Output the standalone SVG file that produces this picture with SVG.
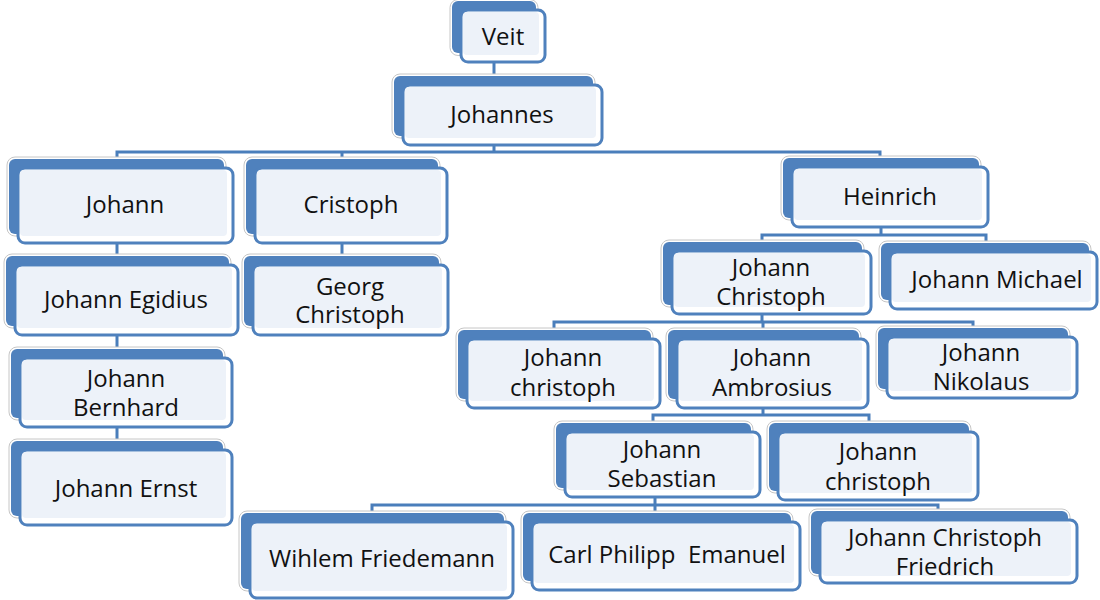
<svg xmlns="http://www.w3.org/2000/svg" width="1100" height="600" viewBox="0 0 1100 600">
  <style>
    .bko { fill: #ffffff; stroke: #c6c6c6; stroke-width: 1; }
    .bk { fill: #4f81bd; }
    .fr { fill: #ffffff; stroke: #4f81bd; stroke-width: 3; }
    .fi { fill: #edf2f9; }
    .lbl { font-family: "Open Sans", "Liberation Sans", sans-serif; font-size: 24px; fill: #111111; text-anchor: middle; white-space: pre; }
    .con { fill: none; stroke: #4a7ebb; stroke-width: 3; stroke-linejoin: miter; }
  </style>

  <!-- connectors: elbow lines from parent to children -->
  <g id="connectors" class="con">
    <path d="M494,62 V76"/>
    <path d="M494,145 V152 M117,158 V152 H880 V158 M342,152 V158"/>
    <path d="M117,243 V256"/>
    <path d="M342,243 V256"/>
    <path d="M117,335 V349"/>
    <path d="M117,427 V441"/>
    <path d="M881,227 V235 M762,242 V235 H986 V243"/>
    <path d="M762,314 V322 M554,330 V322 H973 V328 M763,322 V330"/>
    <path d="M763,408 V415 M653,423 V415 H869 V423"/>
    <path d="M655,497 V513 M372,513 V505 H938 V511"/>
  </g>

  <g id="veit">
    <rect class="bko" x="450" y="-0.5" width="88" height="56" rx="8"/>
    <rect class="bk" x="452" y="1" width="84" height="52" rx="6"/>
    <rect class="fr" x="461" y="10" width="84" height="52" rx="7"/>
    <rect class="fi" x="463" y="12" width="76" height="43" rx="4"/>
    <text class="lbl" x="503" y="45">Veit</text>
  </g>

  <g id="johannes">
    <rect class="bko" x="392" y="74" width="203" height="64" rx="8"/>
    <rect class="bk" x="394" y="76" width="199" height="60" rx="6"/>
    <rect class="fr" x="403" y="85" width="199" height="60" rx="7"/>
    <rect class="fi" x="405" y="87" width="191" height="51" rx="4"/>
    <text class="lbl" x="502" y="123">Johannes</text>
  </g>

  <g id="johann">
    <rect class="bko" x="7" y="157" width="219" height="79" rx="8"/>
    <rect class="bk" x="9" y="159" width="215" height="75" rx="6"/>
    <rect class="fr" x="18" y="168" width="215" height="75" rx="7"/>
    <rect class="fi" x="20" y="170" width="207" height="66" rx="4"/>
    <text class="lbl" x="125" y="213">Johann</text>
  </g>

  <g id="cristoph">
    <rect class="bko" x="244" y="157" width="196" height="79" rx="8"/>
    <rect class="bk" x="246" y="159" width="192" height="75" rx="6"/>
    <rect class="fr" x="255" y="168" width="192" height="75" rx="7"/>
    <rect class="fi" x="257" y="170" width="184" height="66" rx="4"/>
    <text class="lbl" x="351" y="213">Cristoph</text>
  </g>

  <g id="heinrich">
    <rect class="bko" x="781" y="156" width="200" height="64" rx="8"/>
    <rect class="bk" x="783" y="158" width="196" height="60" rx="6"/>
    <rect class="fr" x="792" y="167" width="196" height="60" rx="7"/>
    <rect class="fi" x="794" y="169" width="188" height="51" rx="4"/>
    <text class="lbl" x="890" y="205">Heinrich</text>
  </g>

  <g id="johann-egidius">
    <rect class="bko" x="4" y="254" width="227" height="74" rx="8"/>
    <rect class="bk" x="6" y="256" width="223" height="70" rx="6"/>
    <rect class="fr" x="15" y="265" width="223" height="70" rx="7"/>
    <rect class="fi" x="17" y="267" width="215" height="61" rx="4"/>
    <text class="lbl" x="126" y="308">Johann Egidius</text>
  </g>

  <g id="georg-christoph">
    <rect class="bko" x="242" y="254" width="199" height="74" rx="8"/>
    <rect class="bk" x="244" y="256" width="195" height="70" rx="6"/>
    <rect class="fr" x="253" y="265" width="195" height="70" rx="7"/>
    <rect class="fi" x="255" y="267" width="187" height="61" rx="4"/>
    <text class="lbl" x="350" y="295">Georg</text>
    <text class="lbl" x="350" y="323">Christoph</text>
  </g>

  <g id="johann-bernhard">
    <rect class="bko" x="9" y="347" width="216" height="73" rx="8"/>
    <rect class="bk" x="11" y="349" width="212" height="69" rx="6"/>
    <rect class="fr" x="20" y="358" width="212" height="69" rx="7"/>
    <rect class="fi" x="22" y="360" width="204" height="60" rx="4"/>
    <text class="lbl" x="126" y="387">Johann</text>
    <text class="lbl" x="126" y="416">Bernhard</text>
  </g>

  <g id="johann-ernst">
    <rect class="bko" x="9" y="439" width="216" height="79" rx="8"/>
    <rect class="bk" x="11" y="441" width="212" height="75" rx="6"/>
    <rect class="fr" x="20" y="450" width="212" height="75" rx="7"/>
    <rect class="fi" x="22" y="452" width="204" height="66" rx="4"/>
    <text class="lbl" x="126" y="497">Johann Ernst</text>
  </g>

  <g id="johann-christoph-1">
    <rect class="bko" x="661" y="240" width="203" height="67" rx="8"/>
    <rect class="bk" x="663" y="242" width="199" height="63" rx="6"/>
    <rect class="fr" x="672" y="251" width="199" height="63" rx="7"/>
    <rect class="fi" x="674" y="253" width="191" height="54" rx="4"/>
    <text class="lbl" x="771" y="276">Johann</text>
    <text class="lbl" x="771" y="305">Christoph</text>
  </g>

  <g id="johann-michael">
    <rect class="bko" x="879" y="241" width="212" height="61" rx="8"/>
    <rect class="bk" x="881" y="243" width="208" height="57" rx="6"/>
    <rect class="fr" x="890" y="252" width="207" height="57" rx="7"/>
    <rect class="fi" x="892" y="254" width="199" height="48" rx="4"/>
    <text class="lbl" x="997" y="288">Johann Michael</text>
  </g>

  <g id="johann-christoph-2">
    <rect class="bko" x="456" y="328" width="197" height="73" rx="8"/>
    <rect class="bk" x="458" y="330" width="193" height="69" rx="6"/>
    <rect class="fr" x="467" y="339" width="193" height="69" rx="7"/>
    <rect class="fi" x="469" y="341" width="185" height="60" rx="4"/>
    <text class="lbl" x="563" y="366">Johann</text>
    <text class="lbl" x="563" y="396">christoph</text>
  </g>

  <g id="johann-ambrosius">
    <rect class="bko" x="666" y="328" width="195" height="73" rx="8"/>
    <rect class="bk" x="668" y="330" width="191" height="69" rx="6"/>
    <rect class="fr" x="677" y="339" width="191" height="69" rx="7"/>
    <rect class="fi" x="679" y="341" width="183" height="60" rx="4"/>
    <text class="lbl" x="772" y="366">Johann</text>
    <text class="lbl" x="772" y="396">Ambrosius</text>
  </g>

  <g id="johann-nikolaus">
    <rect class="bko" x="876" y="326" width="194" height="65" rx="8"/>
    <rect class="bk" x="878" y="328" width="190" height="61" rx="6"/>
    <rect class="fr" x="887" y="337" width="190" height="61" rx="7"/>
    <rect class="fi" x="889" y="339" width="182" height="52" rx="4"/>
    <text class="lbl" x="981" y="361">Johann</text>
    <text class="lbl" x="981" y="390">Nikolaus</text>
  </g>

  <g id="johann-sebastian">
    <rect class="bko" x="554" y="421" width="199" height="69" rx="8"/>
    <rect class="bk" x="556" y="423" width="195" height="65" rx="6"/>
    <rect class="fr" x="565" y="432" width="195" height="65" rx="7"/>
    <rect class="fi" x="567" y="434" width="187" height="56" rx="4"/>
    <text class="lbl" x="662" y="458">Johann</text>
    <text class="lbl" x="662" y="487">Sebastian</text>
  </g>

  <g id="johann-christoph-3">
    <rect class="bko" x="767" y="421" width="204" height="72" rx="8"/>
    <rect class="bk" x="769" y="423" width="200" height="68" rx="6"/>
    <rect class="fr" x="778" y="432" width="200" height="68" rx="7"/>
    <rect class="fi" x="780" y="434" width="192" height="59" rx="4"/>
    <text class="lbl" x="878" y="460">Johann</text>
    <text class="lbl" x="878" y="490">christoph</text>
  </g>

  <g id="wilhelm-friedemann">
    <rect class="bko" x="239" y="511" width="267" height="80" rx="8"/>
    <rect class="bk" x="241" y="513" width="263" height="76" rx="6"/>
    <rect class="fr" x="250" y="522" width="263" height="76" rx="7"/>
    <rect class="fi" x="252" y="524" width="255" height="67" rx="4"/>
    <text class="lbl" x="382" y="567">Wihlem Friedemann</text>
  </g>

  <g id="carl-philipp-emanuel">
    <rect class="bko" x="521" y="511" width="272" height="72" rx="8"/>
    <rect class="bk" x="523" y="513" width="268" height="68" rx="6"/>
    <rect class="fr" x="532" y="522" width="268" height="68" rx="7"/>
    <rect class="fi" x="534" y="524" width="260" height="59" rx="4"/>
    <text class="lbl" x="667" y="563">Carl Philipp  Emanuel</text>
  </g>

  <g id="johann-christoph-friedrich">
    <rect class="bko" x="809" y="509" width="261" height="67" rx="8"/>
    <rect class="bk" x="811" y="511" width="257" height="63" rx="6"/>
    <rect class="fr" x="820" y="520" width="257" height="63" rx="7"/>
    <rect class="fi" x="822" y="522" width="249" height="54" rx="4"/>
    <text class="lbl" x="945" y="546">Johann Christoph</text>
    <text class="lbl" x="945" y="575">Friedrich</text>
  </g>
</svg>
